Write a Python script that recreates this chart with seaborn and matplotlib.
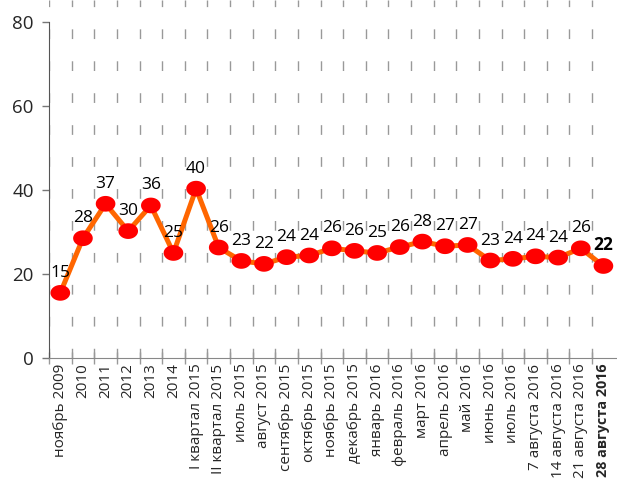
import numpy as np
import pandas as pd
import seaborn as sns
import matplotlib.pyplot as plt
from matplotlib.path import Path
from matplotlib.ticker import FixedLocator

# ------------------------------
# data
# ------------------------------
periods = ['ноябрь 2009', '2010', '2011', '2012', '2013', '2014',
           'I квартал 2015', 'II квартал 2015', 'июль 2015', 'август 2015',
           'сентябрь 2015', 'октябрь 2015', 'ноябрь 2015', 'декабрь 2015',
           'январь 2016', 'февраль 2016', 'март 2016', 'апрель 2016',
           'май 2016', 'июнь 2016', 'июль 2016', '7 августа 2016',
           '14 августа 2016', '21 августа 2016', '28 августа 2016']
values = [15.5, 28.5, 36.7, 30.2, 36.3, 25.0, 40.3, 26.3, 23.1, 22.4,
          24.0, 24.4, 26.1, 25.5, 25.0, 26.4, 27.7, 26.6, 26.9, 23.2,
          23.6, 24.2, 23.9, 26.1, 21.9]
labels = ['15', '28', '37', '30', '36', '25', '40', '26', '23', '22',
          '24', '24', '26', '26', '25', '26', '28', '27', '27', '23',
          '24', '24', '24', '26', '22']

df = pd.DataFrame({'pos': np.arange(len(periods)), 'value': values})

# ------------------------------
# style
# ------------------------------
sns.set_style('white')
plt.rcParams['font.family'] = ['Open Sans', 'DejaVu Sans']

fig = plt.figure(figsize=(6.17, 4.82), dpi=100)
ax = fig.add_axes([49 / 617, 124 / 482, 1 - 49 / 617, 1 - 124 / 482])

# slightly flattened dot like in the original
t = np.linspace(0, 2 * np.pi, 60)
ellipse = Path(np.column_stack([np.cos(t), 0.8 * np.sin(t)]), closed=True)

sns.lineplot(data=df, x='pos', y='value', ax=ax, color='#ff6600',
             linewidth=3.6, zorder=3)
sns.scatterplot(data=df, x='pos', y='value', ax=ax, marker=ellipse, s=200,
                color='#ff0000', edgecolor='none', zorder=4)

n = len(periods)
for i, (v, lab) in enumerate(zip(values, labels)):
    bold = i == n - 1
    ax.annotate(lab, (i, v), xytext=(0, 11.5), textcoords='offset points',
                ha='center', va='baseline', fontsize=12.5,
                fontweight='bold' if bold else 'normal', color='black',
                zorder=5)

# ------------------------------
# axes
# ------------------------------
ax.set_xlim(-0.5, n - 0.4)
ax.set_ylim(0, 85.2)
ax.set_yticks([0, 20, 40, 60, 80])
ax.tick_params(axis='y', labelsize=13.5, length=5, width=1, color='#777777',
               pad=6, left=True)

ax.set_xticks(np.arange(n))
ax.set_xticklabels(periods, rotation=90, fontsize=11)
last = ax.get_xticklabels()[-1]
last.set_fontweight('bold')
last.set_fontsize(10.3)
ax.tick_params(axis='x', which='major', length=0, pad=4)
ax.xaxis.set_minor_locator(FixedLocator(np.arange(n) - 0.5))
ax.tick_params(axis='x', which='minor', length=8, direction='inout',
               width=1, color='#999999', bottom=True)
ax.grid(True, axis='x', which='minor', color='#999999', linestyle=(0, (7, 16)),
        linewidth=1)
ax.grid(False, axis='y')

ax.set_xlabel('')
ax.set_ylabel('')
for s in ['top', 'right']:
    ax.spines[s].set_visible(False)
ax.spines['left'].set_bounds(0, 80)
ax.spines['left'].set_color('#555555')
ax.spines['bottom'].set_color('#888888')

plt.savefig('out.png', dpi=100)
